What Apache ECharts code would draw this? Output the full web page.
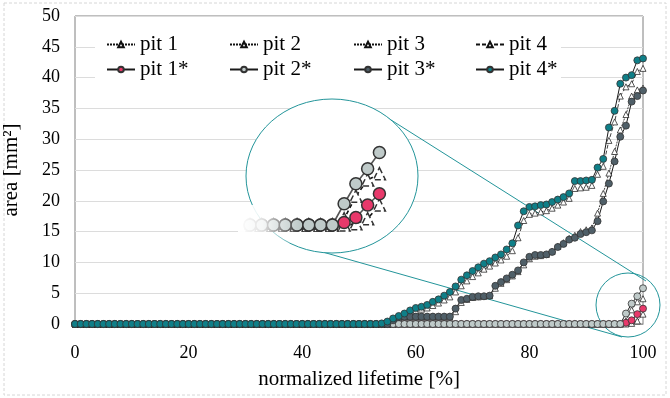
<!DOCTYPE html>
<html>
<head>
<meta charset="utf-8">
<script src="https://cdn.jsdelivr.net/npm/echarts@6/dist/echarts.min.js"></script>
<style>
	html, body { margin: 0; padding: 0; background: #fff; }
	#main { width: 670px; height: 398px; }
</style>
</head>
<body>
<div id="main"></div>
<script>
// normalized lifetime in percent, one sample per percent
var lifetime = [];
for (var i = 0; i <= 100; i++) {
	lifetime.push(i);
}

// pit area [mm²], measured (*) and reference (triangles)
var pit1Star = [
	0, 0, 0, 0, 0, 0, 0, 0, 0, 0,
	0, 0, 0, 0, 0, 0, 0, 0, 0, 0,
	0, 0, 0, 0, 0, 0, 0, 0, 0, 0,
	0, 0, 0, 0, 0, 0, 0, 0, 0, 0,
	0, 0, 0, 0, 0, 0, 0, 0, 0, 0,
	0, 0, 0, 0, 0, 0, 0, 0, 0, 0,
	0, 0, 0, 0, 0, 0, 0, 0, 0, 0,
	0, 0, 0, 0, 0, 0, 0, 0, 0, 0,
	0, 0, 0, 0, 0, 0, 0, 0, 0, 0,
	0, 0, 0, 0, 0, 0, 0, 0.2, 0.6, 1.6,
	2.5
];
var pit2Star = [
	0, 0, 0, 0, 0, 0, 0, 0, 0, 0,
	0, 0, 0, 0, 0, 0, 0, 0, 0, 0,
	0, 0, 0, 0, 0, 0, 0, 0, 0, 0,
	0, 0, 0, 0, 0, 0, 0, 0, 0, 0,
	0, 0, 0, 0, 0, 0, 0, 0, 0, 0,
	0, 0, 0, 0, 0, 0, 0, 0, 0, 0,
	0, 0, 0, 0, 0, 0, 0, 0, 0, 0,
	0, 0, 0, 0, 0, 0, 0, 0, 0, 0,
	0, 0, 0, 0, 0, 0, 0, 0, 0, 0,
	0, 0, 0, 0, 0, 0, 0, 1.7, 3.3, 4.5,
	5.8
];
var pit3Star = [
	0, 0, 0, 0, 0, 0, 0, 0, 0, 0,
	0, 0, 0, 0, 0, 0, 0, 0, 0, 0,
	0, 0, 0, 0, 0, 0, 0, 0, 0, 0,
	0, 0, 0, 0, 0, 0, 0, 0, 0, 0,
	0, 0, 0, 0, 0, 0, 0, 0, 0, 0,
	0, 0, 0, 0, 0, 0, 0.6, 1.1, 1.2, 1.2,
	1.2, 1.2, 1.2, 1.2, 1.2, 1.2, 1.2, 2.5, 3.9, 4.1,
	4.4, 4.5, 4.5, 4.6, 6.2, 6.8, 7.4, 8.0, 8.7, 10.0,
	10.9, 11.2, 11.2, 11.3, 11.7, 12.5, 13.0, 13.7, 14.0, 14.6,
	14.9, 15.2, 16.7, 19.9, 22.8, 26.4, 30.4, 32.2, 36.1, 37.0,
	37.9
];
var pit4Star = [
	0, 0, 0, 0, 0, 0, 0, 0, 0, 0,
	0, 0, 0, 0, 0, 0, 0, 0, 0, 0,
	0, 0, 0, 0, 0, 0, 0, 0, 0, 0,
	0, 0, 0, 0, 0, 0, 0, 0, 0, 0,
	0, 0, 0, 0, 0, 0, 0, 0, 0, 0,
	0, 0, 0, 0, 0.1, 0.4, 0.9, 1.3, 1.7, 2.2,
	2.6, 2.8, 3.1, 3.6, 4.0, 4.6, 5.2, 6.1, 7.2, 7.9,
	8.6, 9.2, 9.8, 10.2, 10.8, 11.3, 12.1, 13.1, 16.0, 18.3,
	19.0, 19.1, 19.3, 19.4, 19.8, 20.2, 20.6, 21.2, 23.2, 23.2,
	23.3, 23.4, 25.4, 26.8, 31.9, 34.6, 39.0, 40.0, 40.4, 42.8,
	43.1
];
var pit1 = [
	0, 0, 0, 0, 0, 0, 0, 0, 0, 0,
	0, 0, 0, 0, 0, 0, 0, 0, 0, 0,
	0, 0, 0, 0, 0, 0, 0, 0, 0, 0,
	0, 0, 0, 0, 0, 0, 0, 0, 0, 0,
	0, 0, 0, 0, 0, 0, 0, 0, 0, 0,
	0, 0, 0, 0, 0, 0, 0, 0, 0, 0,
	0, 0, 0, 0, 0, 0, 0, 0, 0, 0,
	0, 0, 0, 0, 0, 0, 0, 0, 0, 0,
	0, 0, 0, 0, 0, 0, 0, 0, 0, 0,
	0, 0, 0, 0, 0, 0, 0, 0, 0.1, 0.5,
	1.6
];
var pit2 = [
	0, 0, 0, 0, 0, 0, 0, 0, 0, 0,
	0, 0, 0, 0, 0, 0, 0, 0, 0, 0,
	0, 0, 0, 0, 0, 0, 0, 0, 0, 0,
	0, 0, 0, 0, 0, 0, 0, 0, 0, 0,
	0, 0, 0, 0, 0, 0, 0, 0, 0, 0,
	0, 0, 0, 0, 0, 0, 0, 0, 0, 0,
	0, 0, 0, 0, 0, 0, 0, 0, 0, 0,
	0, 0, 0, 0, 0, 0, 0, 0, 0, 0,
	0, 0, 0, 0, 0, 0, 0, 0, 0, 0,
	0, 0, 0, 0, 0, 0, 0, 0.5, 2.3, 3.6,
	4.1
];
var pit3 = [
	0, 0, 0, 0, 0, 0, 0, 0, 0, 0,
	0, 0, 0, 0, 0, 0, 0, 0, 0, 0,
	0, 0, 0, 0, 0, 0, 0, 0, 0, 0,
	0, 0, 0, 0, 0, 0, 0, 0, 0, 0,
	0, 0, 0, 0, 0, 0, 0, 0, 0, 0,
	0, 0, 0, 0, 0, 0, 0, 0.8, 1.1, 1.1,
	1.1, 1.1, 1.1, 1.1, 1.1, 1.1, 1.1, 2.0, 3.5, 4.0,
	4.3, 4.4, 4.5, 4.6, 5.8, 6.6, 7.2, 7.8, 8.5, 9.6,
	10.6, 11.0, 11.1, 11.3, 11.8, 12.6, 13.2, 13.9, 14.4, 15.0,
	15.3, 15.6, 18.0, 21.2, 24.5, 28.0, 31.5, 34.0, 37.0, 38.0,
	38.3
];
var pit4 = [
	0, 0, 0, 0, 0, 0, 0, 0, 0, 0,
	0, 0, 0, 0, 0, 0, 0, 0, 0, 0,
	0, 0, 0, 0, 0, 0, 0, 0, 0, 0,
	0, 0, 0, 0, 0, 0, 0, 0, 0, 0,
	0, 0, 0, 0, 0, 0, 0, 0, 0, 0,
	0, 0, 0, 0, 0, 0, 0.5, 0.9, 1.3, 1.7,
	2.1, 2.4, 2.6, 3.0, 3.4, 3.9, 4.4, 5.2, 6.2, 7.0,
	7.7, 8.3, 8.9, 9.4, 9.9, 10.4, 11.0, 11.9, 14.0, 16.8,
	17.8, 18.0, 18.2, 18.4, 18.8, 19.3, 19.8, 20.4, 22.0, 22.1,
	22.2, 22.5, 24.3, 25.6, 29.8, 32.8, 37.0, 38.5, 39.0, 41.0,
	41.5
];

var xTicks = [0, 20, 40, 60, 80, 100];
var yTicks = [0, 5, 10, 15, 20, 25, 30, 35, 40, 45, 50];

var serif = 'Liberation Serif';
var teal = '#23959a';

var pairs = function (values) {
	var res = [];
	for (var i = 0; i < values.length; i++) {
		res.push([lifetime[i], values[i]]);
	}
	return res;
};

var triangleSeries = function (name, values, dash, big) {
	return {
		name: name,
		type: 'line',
		data: pairs(values),
		xAxisIndex: big ? 1 : 0,
		yAxisIndex: big ? 1 : 0,
		symbol: 'triangle',
		symbolSize: big ? 12 : 6,
		showSymbol: true,
		animation: false,
		clip: true,
		lineStyle: { color: '#111', width: big ? 1.6 : 0.8, type: dash },
		itemStyle: {
			color: '#fff',
			borderColor: big ? '#333' : '#111',
			borderWidth: big ? 1.5 : 0.7,
			borderType: big ? 'dashed' : 'solid'
		}
	};
};

var dotSeries = function (name, values, fill, big) {
	return {
		name: name,
		type: 'line',
		data: pairs(values),
		xAxisIndex: big ? 1 : 0,
		yAxisIndex: big ? 1 : 0,
		symbol: 'circle',
		symbolSize: big ? 12 : 7,
		showSymbol: true,
		animation: false,
		clip: true,
		lineStyle: { color: big ? '#555' : '#1a1a1a', width: big ? 1.6 : 1 },
		itemStyle: {
			color: fill,
			borderColor: '#333',
			borderWidth: big ? 1.5 : 0.8
		}
	};
};

var legendCols = [106, 229, 353, 475];
var legendRows = [34, 59];
var legendNames = [
	['pit 1', 'pit 2', 'pit 3', 'pit 4'],
	['pit 1*', 'pit 2*', 'pit 3*', 'pit 4*']
];
var legends = [];
for (var r = 0; r < legendNames.length; r++) {
	for (var c = 0; c < legendNames[r].length; c++) {
		legends.push({
			data: [legendNames[r][c]],
			left: legendCols[c],
			top: legendRows[r],
			padding: 0,
			itemWidth: 28,
			itemHeight: 7,
			selectedMode: false,
			textStyle: { fontFamily: serif, fontSize: 21, color: '#000' }
		});
	}
}

var myChart = echarts.init(document.getElementById('main'));
var option = {
	backgroundColor: '#fff',
	animation: false,
	legend: legends,
	grid: [
		{
			left: 75, right: 27, top: 16, bottom: 74,
			containLabel: false, outerBoundsMode: 'none',
			show: true, borderColor: '#7f7f7f', borderWidth: 1
		},
		{ left: 250, top: 110, width: 160, height: 130, outerBoundsMode: 'none' }
	],
	xAxis: [
		{
			type: 'value',
			min: 0,
			max: 100,
			interval: 20,
			name: 'normalized lifetime [%]',
			nameLocation: 'middle',
			nameGap: 45,
			nameTextStyle: { fontFamily: serif, fontSize: 21, color: '#000' },
			axisLine: { lineStyle: { color: '#999' } },
			axisTick: { show: false },
			splitLine: { show: false },
			axisLabel: {
				fontFamily: serif, fontSize: 18, color: '#000', margin: 20,
				formatter: function (v) { return xTicks.indexOf(v) >= 0 ? v : ''; }
			}
		},
		{ gridIndex: 1, type: 'value', min: 89, max: 102.6, show: false }
	],
	yAxis: [
		{
			type: 'value',
			min: 0,
			max: 50,
			interval: 5,
			name: 'area [mm²]',
			nameLocation: 'middle',
			nameGap: 53,
			nameTextStyle: { fontFamily: serif, fontSize: 21, color: '#000' },
			axisLine: { show: false },
			axisTick: { show: false },
			splitLine: { lineStyle: { color: '#dcdcdc', width: 1 } },
			axisLabel: {
				fontFamily: serif, fontSize: 18, color: '#000', margin: 15,
				formatter: function (v) { return yTicks.indexOf(v) >= 0 ? v : ''; }
			}
		},
		{ gridIndex: 1, type: 'value', min: -1.2, max: 9.2, show: false }
	],
	graphic: [
		{ type: 'rect', z: 0, silent: true, shape: { x: 4, y: 3, width: 662, height: 392 },
			style: { fill: null, stroke: '#d6d6d6', lineWidth: 1, lineDash: [3, 2] } },
		{ type: 'rect', z: 1, silent: true, shape: { x: 95, y: 29, width: 466, height: 58 },
			style: { fill: '#fff' } },
		{ type: 'line', z: 1, silent: true, shape: { x1: 380, y1: 113, x2: 646, y2: 281 },
			style: { stroke: teal, lineWidth: 1 } },
		{ type: 'line', z: 1, silent: true, shape: { x1: 305, y1: 247, x2: 622, y2: 337 },
			style: { stroke: teal, lineWidth: 1 } },
		{ type: 'ellipse', z: 1, silent: true, shape: { cx: 332, cy: 176, rx: 86, ry: 77 },
			style: { fill: '#fff', stroke: teal, lineWidth: 1 } },
		{ type: 'circle', z: 1, silent: true, shape: { cx: 628, cy: 305, r: 32 },
			style: { fill: null, stroke: teal, lineWidth: 1 } },
		// fade the left end of the magnified row
		{ type: 'rect', z: 100, silent: true, shape: { x: 238, y: 205, width: 62, height: 38 },
			style: {
				fill: new echarts.graphic.LinearGradient(0, 0, 1, 0, [
					{ offset: 0, color: 'rgba(255,255,255,1)' },
					{ offset: 0.4, color: 'rgba(255,255,255,0.85)' },
					{ offset: 1, color: 'rgba(255,255,255,0)' }
				])
			} }
	],
	series: [
		triangleSeries('pit 1', pit1, [2, 1], false),
		triangleSeries('pit 2', pit2, [2, 1], false),
		triangleSeries('pit 3', pit3, [2, 1], false),
		triangleSeries('pit 4', pit4, [4, 2], false),
		dotSeries('pit 1*', pit1Star, '#e8396b', false),
		dotSeries('pit 2*', pit2Star, '#bfcac9', false),
		dotSeries('pit 3*', pit3Star, '#4f5f68', false),
		dotSeries('pit 4*', pit4Star, '#0f7f88', false),
		// magnified view of the last few percent
		triangleSeries('zoom pit 1', pit1, [4, 3], true),
		triangleSeries('zoom pit 2', pit2, [4, 3], true),
		dotSeries('zoom pit 1*', pit1Star, '#e8396b', true),
		dotSeries('zoom pit 2*', pit2Star, '#bfcac9', true)
	]
};
myChart.setOption(option);
</script>
</body>
</html>
